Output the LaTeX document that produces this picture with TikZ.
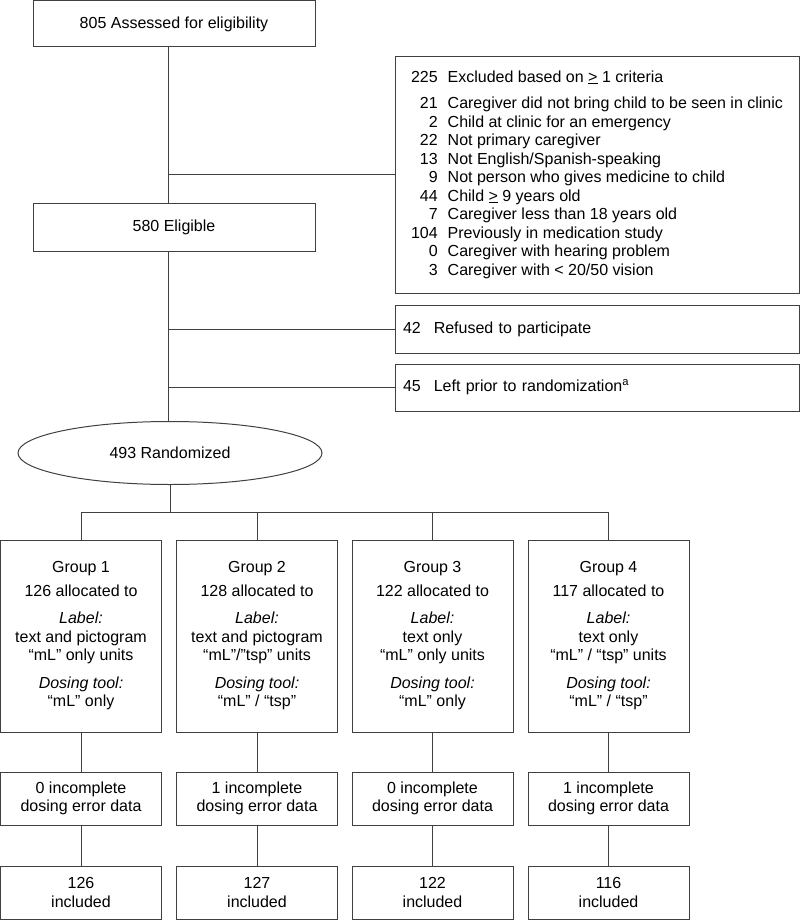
\documentclass[tikz,border=0pt]{standalone}
\usepackage{fontspec}
\setmainfont{Liberation Sans}
\usetikzlibrary{shapes.geometric}
\begin{document}
\begin{tikzpicture}[x=1pt, y=-1pt, thick,
        box/.style={draw=black!75, line width=1pt, inner sep=0pt, align=center},
        link/.style={draw=black!75, line width=1pt},
        every node/.style={font=\fontsize{16}{18.5}\selectfont}]
        \useasboundingbox (0,0) rectangle (800,920);
        \coordinate (trunk) at (168,0);
        \coordinate (bar) at (0,512);
        % screening
        \node[box, minimum width=282, minimum height=46] (assess) at (174,24) {805 Assessed for eligibility};
        \node[box, minimum width=404, minimum height=236] (excl) at (597,175) {%
            \begin{tabular}{@{}r@{\hspace{10pt}}l@{}}
            225 & Excluded based on \underline{>} 1 criteria\\[8pt]
            21 & Caregiver did not bring child to be seen in clinic\\
            2 & Child at clinic for an emergency\\
            22 & Not primary caregiver\\
            13 & Not English/Spanish-speaking\\
            9 & Not person who gives medicine to child\\
            44 & Child \underline{>} 9 years old\\
            7 & Caregiver less than 18 years old\\
            104 & Previously in medication study\\
            0 & Caregiver with hearing problem\\
            3 & Caregiver with < 20/50 vision
            \end{tabular}};
        \node[box, minimum width=282, minimum height=48] (elig) at (174,227) {580 Eligible};
        \node[box, minimum width=404, minimum height=48, text width=388, align=left] (refused) at (597,329) {42\hspace{13pt}Refused to participate};
        \node[box, minimum width=404, minimum height=47, text width=388, align=left] (leftprior) at (597,387.5) {45\hspace{13pt}Left prior to randomization\textsuperscript{a}};
        \node[box, ellipse, minimum width=304, minimum height=63] (rand) at (170,453) {493 Randomized};
        % groups
        \node[box, minimum width=161, minimum height=192] (g1) at (81,636) {Group 1\\[5pt]126 allocated to\\[9pt]\textit{Label:}\\text and pictogram\\“mL” only units\\[9pt]\textit{Dosing tool:}\\“mL” only};
        \node[box, minimum width=161, minimum height=192] (g2) at (257,636) {Group 2\\[5pt]128 allocated to\\[9pt]\textit{Label:}\\text and pictogram\\“mL”/”tsp” units\\[9pt]\textit{Dosing tool:}\\“mL” / “tsp”};
        \node[box, minimum width=161, minimum height=192] (g3) at (432.5,636) {Group 3\\[5pt]122 allocated to\\[9pt]\textit{Label:}\\text only\\“mL” only units\\[9pt]\textit{Dosing tool:}\\“mL” only};
        \node[box, minimum width=161, minimum height=192] (g4) at (608.5,636) {Group 4\\[5pt]117 allocated to\\[9pt]\textit{Label:}\\text only\\“mL” / “tsp” units\\[9pt]\textit{Dosing tool:}\\“mL” / “tsp”};
        \node[box, minimum width=161, minimum height=53] (i1) at (81,798.5) {0 incomplete\\dosing error data};
        \node[box, minimum width=161, minimum height=53] (i2) at (257,798.5) {1 incomplete\\dosing error data};
        \node[box, minimum width=161, minimum height=53] (i3) at (432.5,798.5) {0 incomplete\\dosing error data};
        \node[box, minimum width=161, minimum height=53] (i4) at (608.5,798.5) {1 incomplete\\dosing error data};
        \node[box, minimum width=161, minimum height=53] (n1) at (81,892.5) {126\\included};
        \node[box, minimum width=161, minimum height=53] (n2) at (257,892.5) {127\\included};
        \node[box, minimum width=161, minimum height=53] (n3) at (432.5,892.5) {122\\included};
        \node[box, minimum width=161, minimum height=53] (n4) at (608.5,892.5) {116\\included};
        % connectors
        \draw[link] (assess.south -| trunk) -- (elig.north -| trunk);
        \draw[link] (trunk |- excl.west) -- (excl.west);
        \draw[link] (elig.south -| trunk) -- (rand.north -| trunk);
        \draw[link] (trunk |- refused.west) -- (refused.west);
        \draw[link] (trunk |- leftprior.west) -- (leftprior.west);
        \draw[link] (rand.south) -- (rand.south |- bar);
        \draw[link] (g1.north) -- (g1.north |- bar) -- (g4.north |- bar) -- (g4.north);
        \draw[link] (g2.north) -- (g2.north |- bar);
        \draw[link] (g3.north) -- (g3.north |- bar);
        \draw[link] (g1.south) -- (i1.north);
        \draw[link] (g2.south) -- (i2.north);
        \draw[link] (g3.south) -- (i3.north);
        \draw[link] (g4.south) -- (i4.north);
        \draw[link] (i1.south) -- (n1.north);
        \draw[link] (i2.south) -- (n2.north);
        \draw[link] (i3.south) -- (n3.north);
        \draw[link] (i4.south) -- (n4.north);
\end{tikzpicture}
\end{document}
